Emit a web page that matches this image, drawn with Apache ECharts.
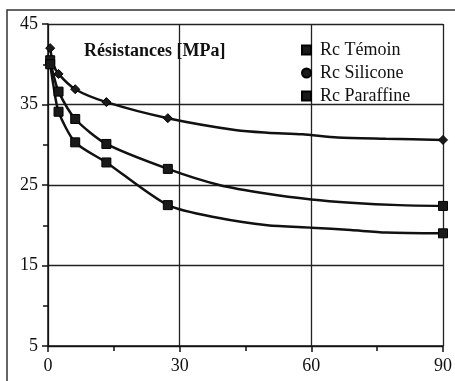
<!DOCTYPE html>
<html>
<head>
<meta charset="utf-8">
<script src="https://cdn.jsdelivr.net/npm/echarts@6/dist/echarts.min.js"></script>
<style>
  html, body { margin: 0; padding: 0; background: #fff; }
  #chart { width: 455px; height: 381px; }
</style>
</head>
<body>
<div id="chart"></div>
<script>
// values (days, MPa)
var yTicks = [5, 15, 25, 35, 45];
var xTicks = [0, 30, 60, 90];
var markedDays = [0.5, 2.4, 6.2, 13.3, 27.3, 90];

var siliconeDays = [0.5, 1.2, 2.4, 6.2, 13.3, 27.3, 43, 50, 58, 66, 77, 90];
var silicone     = [42, 40, 38.8, 36.9, 35.3, 33.3, 31.8, 31.5, 31.3, 30.9, 30.75, 30.6];

var temoinDays = [0.5, 1.2, 2.4, 6.2, 13.3, 27.3, 39, 50, 60, 69, 80, 90];
var temoin     = [40.5, 38.8, 36.6, 33.2, 30.1, 27.0, 25.0, 23.9, 23.2, 22.8, 22.5, 22.4];

var paraffineDays = [0.5, 1.2, 2.4, 6.2, 13.3, 27.3, 39, 50, 60, 69, 77, 90];
var paraffine     = [40, 37.5, 34.1, 30.3, 27.8, 22.5, 20.9, 20.0, 19.7, 19.4, 19.1, 19.0];

var serif = '"Liberation Serif", "DejaVu Serif", serif';

function pts(days, vals) {
    return days.map(function (d, i) {
        var p = {value: [d, vals[i]]};
        if (markedDays.indexOf(d) < 0) p.symbol = 'none';
        return p;
    });
}

function lineSeries(name, days, vals, symbol, size) {
    return {
        name: name,
        type: 'line',
        data: pts(days, vals),
        smooth: 0.25,
        symbol: symbol,
        symbolSize: size,
        showAllSymbol: true,
        lineStyle: {color: '#111', width: 2.5},
        itemStyle: {color: '#1a1a1a', borderColor: '#000', borderWidth: 1},
        z: 5
    };
}

var chart = echarts.init(document.getElementById('chart'), null, {renderer: 'canvas'});

var option = {
    animation: false,
    backgroundColor: '#fff',
    grid: {left: 48, right: 9, top: 24, bottom: 35},
    graphic: [{
        type: 'polyline',
        shape: {points: [[7, 381], [7, 10], [455, 10]]},
        style: {stroke: '#333', lineWidth: 1.5, fill: null}
    }],
    title: {
        text: 'Résistances [MPa]',
        left: 79, top: 37,
        textStyle: {fontFamily: serif, fontWeight: 'bold', fontSize: 18, color: '#111'}
    },
    legend: {
        orient: 'vertical',
        left: 296, top: 36,
        itemGap: 5,
        itemWidth: 9, itemHeight: 9,
        textStyle: {fontFamily: serif, fontSize: 18, color: '#111', padding: [0, 0, 0, 4]},
        data: [
            {name: 'Rc Témoin', icon: 'rect'},
            {name: 'Rc Silicone', icon: 'circle'},
            {name: 'Rc Paraffine', icon: 'rect'}
        ]
    },
    xAxis: {
        type: 'value',
        min: 0, max: 90, interval: 30,
        axisLine: {show: true, lineStyle: {color: '#111', width: 1.5}},
        axisTick: {show: true, length: 6, lineStyle: {color: '#111', width: 1.5}},
        minorTick: {show: true, splitNumber: 2, length: 5, lineStyle: {color: '#111', width: 1.5}},
        splitLine: {show: true, lineStyle: {color: '#222', width: 1.3}},
        axisLabel: {
            fontFamily: serif, fontSize: 18, color: '#111', margin: 11,
            formatter: function (v) { return xTicks.indexOf(v) >= 0 ? String(v) : ''; }
        }
    },
    yAxis: {
        type: 'value',
        min: 5, max: 45, interval: 10,
        axisLine: {show: true, lineStyle: {color: '#111', width: 1.5}},
        axisTick: {show: true, length: 6, lineStyle: {color: '#111', width: 1.5}},
        minorTick: {show: true, splitNumber: 2, length: 5, lineStyle: {color: '#111', width: 1.5}},
        splitLine: {show: true, lineStyle: {color: '#222', width: 1.3}},
        axisLabel: {
            fontFamily: serif, fontSize: 18, color: '#111', margin: 10,
            formatter: function (v) { return yTicks.indexOf(v) >= 0 ? String(v) : ''; }
        }
    },
    series: [
        lineSeries('Rc Témoin', temoinDays, temoin, 'rect', 9),
        lineSeries('Rc Silicone', siliconeDays, silicone, 'diamond', 9),
        lineSeries('Rc Paraffine', paraffineDays, paraffine, 'rect', 9)
    ]
};

chart.setOption(option);
</script>
</body>
</html>
